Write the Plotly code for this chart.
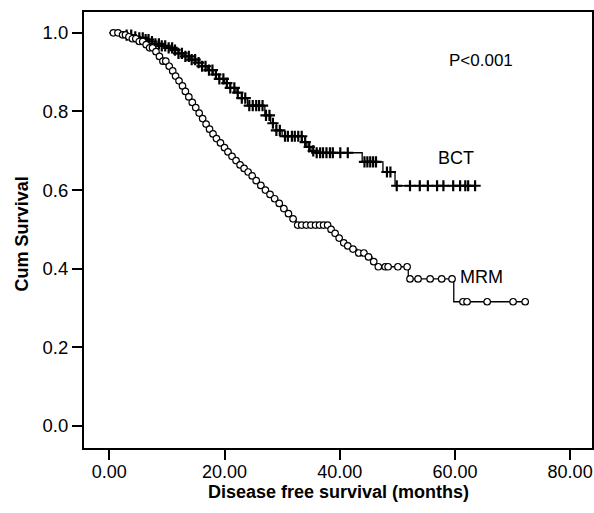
import plotly.graph_objects as go

# ---- data ----
bct_time = [0, 2.0, 3.0, 4.0, 5.0, 6.0, 7.0, 8.0, 9.0, 10.0, 11.0, 12.0, 13.0, 14.0, 15.0,
            16.0, 17.0, 18.0, 19.0, 20.0, 21.0, 22.0, 23.0, 24.0, 27.0, 28.0, 29.0, 30.0,
            33.5, 34.3, 35.0, 35.7, 43.9, 47.5, 49.6, 63.5]
bct_surv = [1.0, 0.997, 0.994, 0.99, 0.987, 0.983, 0.978, 0.972, 0.967, 0.962, 0.956, 0.948,
            0.94, 0.932, 0.924, 0.915, 0.905, 0.894, 0.883, 0.872, 0.86, 0.848, 0.834, 0.815,
            0.79, 0.77, 0.752, 0.737, 0.722, 0.71, 0.70, 0.695, 0.672, 0.646, 0.611, 0.611]
bct_censored = [3.0, 3.8, 4.5, 5.2, 5.8, 6.3, 6.8, 7.4, 8.0, 8.6, 9.1, 9.7, 10.3, 10.9, 11.4,
                12.0, 12.6, 13.2, 13.8, 14.3, 14.9, 15.5, 16.1, 16.7, 17.3, 17.9, 18.5, 19.1,
                19.8, 20.4, 21.0, 21.7, 22.3, 23.0, 23.6, 24.3, 24.9, 25.5, 26.0, 26.6, 27.2,
                27.8, 28.4, 29.0, 29.6, 30.5, 31.0, 31.7, 32.2, 32.8, 33.4, 34.0, 34.7, 35.4,
                36.0, 36.6, 37.1, 37.7, 38.3, 38.8, 40.1, 41.4, 44.3, 44.8, 45.3, 45.8, 46.3,
                48.2, 48.8, 49.9, 52.2, 53.9, 55.3, 56.9, 58.0, 59.7, 60.9, 61.8, 62.3, 63.5]

mrm_time = [0, 2.0, 3.0, 4.0, 5.0, 6.0, 7.0, 7.8, 8.5, 9.2, 9.9, 10.5, 11.1, 11.7, 12.3, 12.9,
            13.5, 14.1, 14.7, 15.3, 15.9, 16.5, 17.1, 17.7, 18.3, 19.0, 19.7, 20.4, 21.1, 21.8,
            22.5, 23.2, 23.9, 24.6, 25.3, 26.0, 26.8, 27.6, 28.4, 29.2, 30.0, 30.8, 31.6, 32.4,
            38.2, 38.8, 39.5, 40.3, 41.0, 41.8, 43.0, 44.5, 45.6, 46.3, 51.9, 59.8, 72.5]
mrm_surv = [1.0, 0.995, 0.99, 0.985, 0.978, 0.97, 0.962, 0.952, 0.94, 0.928, 0.915, 0.903, 0.89,
            0.878, 0.865, 0.851, 0.837, 0.823, 0.81, 0.796, 0.782, 0.768, 0.755, 0.743, 0.731,
            0.72, 0.708, 0.697, 0.686, 0.675, 0.664, 0.655, 0.646, 0.636, 0.624, 0.612, 0.6,
            0.589, 0.578, 0.566, 0.553, 0.54, 0.527, 0.511, 0.5, 0.49, 0.478, 0.466, 0.458, 0.45,
            0.44, 0.43, 0.418, 0.405, 0.374, 0.316, 0.316]
mrm_censored = [0.7, 1.5, 2.3, 2.8, 3.4, 4.0, 4.6, 5.2, 5.8, 6.4, 7.0, 7.5, 8.1, 8.7, 9.3, 9.8,
                10.4, 11.0, 11.5, 12.1, 12.7, 13.2, 13.8, 14.4, 15.0, 15.6, 16.2, 16.8, 17.4,
                18.0, 18.6, 19.3, 20.0, 20.6, 21.3, 22.0, 22.7, 23.4, 24.1, 24.8, 25.5, 26.3,
                27.1, 27.9, 28.7, 29.5, 30.3, 31.1, 31.9, 32.7, 33.4, 34.2, 35.0, 35.8, 36.5,
                37.2, 37.9, 38.5, 39.2, 39.9, 40.7, 41.4, 42.3, 43.3, 44.2, 45.0, 45.9, 46.7,
                47.9, 48.4, 50.1, 51.7, 52.2, 53.6, 55.7, 57.7, 59.5, 61.4, 62.1, 65.6, 70.1, 72.2]

x_ticks = [0, 20, 40, 60, 80]
x_tick_labels = ["0.00", "20.00", "40.00", "60.00", "80.00"]
y_ticks = [0.0, 0.2, 0.4, 0.6, 0.8, 1.0]
y_tick_labels = ["0.0", "0.2", "0.4", "0.6", "0.8", "1.0"]


def surv_at(times, survs, t):
    s = survs[0]
    for ti, si in zip(times, survs):
        if ti <= t:
            s = si
        else:
            break
    return s


FONT = "Liberation Sans, Arial, sans-serif"
fig = go.Figure()

fig.add_trace(go.Scatter(x=mrm_time, y=mrm_surv, mode="lines", line_shape="hv",
                         line=dict(color="black", width=1.3), showlegend=False))
fig.add_trace(go.Scatter(x=bct_time, y=bct_surv, mode="lines", line_shape="hv",
                         line=dict(color="black", width=1.3), showlegend=False))
fig.add_trace(go.Scatter(x=bct_censored, y=[surv_at(bct_time, bct_surv, t) for t in bct_censored],
                         mode="markers",
                         marker=dict(symbol="cross-thin", size=8, color="black",
                                     line=dict(color="black", width=2.2)),
                         showlegend=False))
fig.add_trace(go.Scatter(x=mrm_censored, y=[surv_at(mrm_time, mrm_surv, t) for t in mrm_censored],
                         mode="markers",
                         marker=dict(symbol="circle", size=6.5, color="white",
                                     line=dict(color="black", width=1.2)),
                         showlegend=False))

fig.add_annotation(x=64.5, y=0.929, text="P<0.001", showarrow=False,
                   font=dict(family=FONT, size=17, color="black"))
fig.add_annotation(x=60.2, y=0.682, text="BCT", showarrow=False,
                   font=dict(family=FONT, size=18, color="black"))
fig.add_annotation(x=64.6, y=0.380, text="MRM", showarrow=False,
                   font=dict(family=FONT, size=18, color="black"))

# axis titles placed in paper coordinates
fig.add_annotation(xref="paper", yref="paper", x=0.5, y=-0.0998, xanchor="center",
                   yanchor="middle", text="<b>Disease free survival (months)</b>",
                   showarrow=False, font=dict(family=FONT, size=18, color="black"))
fig.add_annotation(xref="paper", yref="paper", x=-0.122, y=0.49, xanchor="center",
                   yanchor="middle", text="<b>Cum Survival</b>", textangle=-90,
                   showarrow=False, font=dict(family=FONT, size=18, color="black"))

fig.update_layout(
    width=594, height=513,
    margin=dict(l=84, r=2, t=12, b=65, autoexpand=False),
    paper_bgcolor="white", plot_bgcolor="white",
    font=dict(family=FONT, color="black", size=17),
    xaxis=dict(range=[-4.4, 83.8], tickvals=x_ticks, ticktext=x_tick_labels,
               showgrid=False, zeroline=False, showline=True, mirror=True,
               linecolor="black", linewidth=2, ticks="outside", ticklen=10,
               tickwidth=2, tickcolor="black", tickfont=dict(size=18),
               ticklabelstandoff=-4, automargin=False),
    yaxis=dict(range=[-0.056, 1.053], tickvals=y_ticks, ticktext=y_tick_labels,
               showgrid=False, zeroline=False, showline=True, mirror=True,
               linecolor="black", linewidth=2, ticks="outside", ticklen=10,
               tickwidth=2, tickcolor="black", tickfont=dict(size=18.5),
               automargin=False),
)

fig.write_html(
    "out.html",
    config={"displayModeBar": False},
    post_script="document.body.style.margin='0';document.body.style.overflow='hidden';",
)
